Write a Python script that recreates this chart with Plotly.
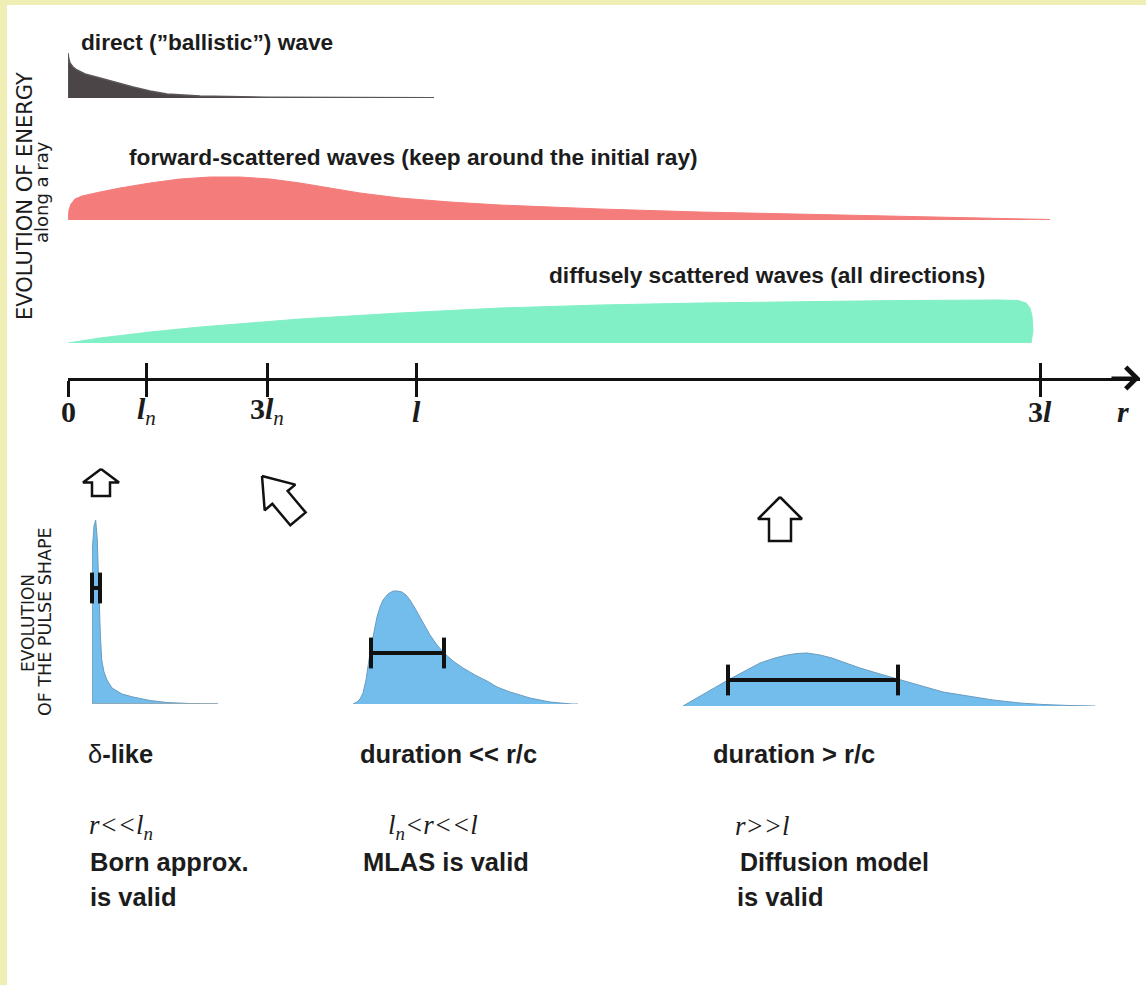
import math
import plotly.graph_objects as go

W, H = 1146, 985

# ---------------- data ----------------
# ray axis (schematic distance r)
ray_ticks = [68, 146, 267, 416, 1040]
ray_tick_labels = ["<b>0</b>",
                   "<b><i>l</i></b><sub><i>n</i></sub>",
                   "<b>3<i>l</i></b><sub><i>n</i></sub>",
                   "<b><i>l</i></b>",
                   "<b>3<i>l</i></b>"]

# energy along a ray (r, relative energy)
direct_r = [68, 68, 68.6, 70, 73, 77, 85, 100, 117, 133, 150, 167, 200, 267, 350, 434]
direct_e = [0, 45, 40, 35, 31, 28, 24, 20, 15, 11, 7, 4, 2, 0.8, 0.4, 0.3]

forward_r = [68, 69, 71, 75, 82, 90, 100, 120, 150, 180, 210, 240, 270, 300, 330, 360,
             400, 450, 500, 600, 700, 800, 900, 1000, 1050]
forward_e = [0, 10, 16, 21, 24, 26, 28, 32, 37, 41, 43, 43, 41, 37, 32, 27,
             22, 18, 15, 11, 8, 6, 4, 2, 0.5]

diffuse_r = [68, 100, 150, 200, 300, 400, 500, 600, 700, 800, 900, 1000, 1018, 1026,
             1030, 1032, 1033, 1031]
diffuse_e = [0, 5, 11, 16, 24, 30, 35, 38, 40, 41.5, 42.5, 43, 42.5, 40,
             35, 27, 12, 0]

# pulse shapes (time since onset, amplitude)
pulse1_t = [0, 0, 2, 3.7, 5.3, 7, 8.3, 9.7, 12, 15, 20, 30, 41, 58, 75, 98, 126]
pulse1_a = [0, 150, 178, 184, 164, 104, 70, 44, 32, 24, 16, 10, 7, 3.5, 1.5, 0.5, 0]
pulse1_width = [0, 8]
pulse1_level = 116

pulse2_t = [0, 4, 7, 10, 13, 17, 21, 24, 27, 30, 35, 40, 44, 49, 53, 57, 63, 70, 77,
            84, 91, 100, 110, 122, 134, 144, 157, 177, 197, 219, 225]
pulse2_a = [0, 2, 5, 11, 24, 51, 72, 87, 97, 104, 110, 113, 113, 112, 109, 104, 94, 81,
            69, 59, 51, 43, 36, 29, 23, 17, 12, 6, 2, 0, 0]
pulse2_width = [18, 91]
pulse2_level = 51

pulse3_t = [0, 17, 32, 45, 62, 77, 92, 104, 114, 124, 137, 149, 160, 177, 197, 214,
            237, 260, 285, 310, 337, 360, 387, 412]
pulse3_a = [0, 10, 18, 26, 35, 43, 48, 51, 52.5, 53, 51, 48, 44, 38, 32, 27,
            20, 14, 10, 6, 3, 1.5, 0.5, 0]
pulse3_width = [45, 215]
pulse3_level = 26

# ---------------- layout helpers ----------------
def xdom(a, b):
    return [a / W, b / W]

def ydom(top, bottom):
    return [1 - bottom / H, 1 - top / H]

SANS = "Liberation Sans, Arial, sans-serif"
DEJAVU = "DejaVu Sans, Liberation Sans, sans-serif"
SERIF = "Liberation Serif, Times New Roman, serif"
INK = "#1c1c1c"

fig = go.Figure()

# energy curves (x6 mirrors the ray axis scale without drawing it)
fig.add_trace(go.Scatter(x=direct_r, y=direct_e, xaxis="x6", yaxis="y2", mode="lines",
                         fill="tozeroy", fillcolor="#4b4547",
                         line=dict(color="#5a5557", width=1.5), hoverinfo="skip"))
fig.add_trace(go.Scatter(x=forward_r, y=forward_e, xaxis="x6", yaxis="y3", mode="lines",
                         fill="tozeroy", fillcolor="#f47d7b",
                         line=dict(color="#f47d7b", width=1), hoverinfo="skip"))
fig.add_trace(go.Scatter(x=diffuse_r, y=diffuse_e, xaxis="x6", yaxis="y4", mode="lines",
                         fill="tozeroy", fillcolor="#82f0c6",
                         line=dict(color="#82f0c6", width=1), hoverinfo="skip"))

# pulse shapes
BLUE = "#72bdec"
pulses = [
    ("x2", "y5", pulse1_t, pulse1_a, pulse1_width, pulse1_level),
    ("x3", "y6", pulse2_t, pulse2_a, pulse2_width, pulse2_level),
    ("x4", "y7", pulse3_t, pulse3_a, pulse3_width, pulse3_level),
]
for xa, ya, t, a, wd, lv in pulses:
    fig.add_trace(go.Scatter(x=t, y=a, xaxis=xa, yaxis=ya, mode="lines", fill="tozeroy",
                             fillcolor=BLUE, line=dict(color="#6a9cc0", width=1),
                             hoverinfo="skip", cliponaxis=False))
    fig.add_trace(go.Scatter(x=wd, y=[lv, lv], xaxis=xa, yaxis=ya, mode="lines+markers",
                             line=dict(color="#111111", width=4),
                             marker=dict(symbol="line-ns", size=22,
                                         line=dict(color="#111111", width=4)),
                             hoverinfo="skip", cliponaxis=False))
# baseline tail of the delta-like pulse
fig.add_trace(go.Scatter(x=[0, 126], y=[0, 0], xaxis="x2", yaxis="y5", mode="lines",
                         line=dict(color="#9aa4aa", width=1.5), hoverinfo="skip"))

# ray axis: invisible trace so the axis is rendered
fig.add_trace(go.Scatter(x=[68, 1140], y=[0, 0], xaxis="x", yaxis="y", mode="markers",
                         marker=dict(size=0.1, opacity=0), hoverinfo="skip"))

# hollow block arrows (overlay pixel space)
def block_arrow(tip_x, tip_y, length, width, angle_deg):
    pts = [(0, 0), (0.5, 0.5), (0.25, 0.5), (0.25, 1.0), (-0.25, 1.0), (-0.25, 0.5),
           (-0.5, 0.5), (0, 0)]
    th = math.radians(angle_deg)
    xs, ys = [], []
    for u, v in pts:
        px, py = u * width, v * length
        rx = px * math.cos(th) - py * math.sin(th)
        ry = px * math.sin(th) + py * math.cos(th)
        xs.append(tip_x + rx)
        ys.append(tip_y + ry)
    return xs, ys

for tip_x, tip_y, ln, wd, ang in [(101, 469, 27, 36, 0), (262, 476, 56, 40, -40),
                                  (780, 497, 44, 44, 0)]:
    ax_, ay_ = block_arrow(tip_x, tip_y, ln, wd, ang)
    fig.add_trace(go.Scatter(x=ax_, y=ay_, xaxis="x5", yaxis="y8", mode="lines",
                             line=dict(color="#111111", width=2.5), hoverinfo="skip"))

# ---------------- annotations ----------------
ann = []
def txt(x, y, s, size, family=SANS, angle=0, xanchor="left", xref="x5"):
    ann.append(dict(x=x, y=y, xref=xref, yref="y8", text=s, showarrow=False,
                    xanchor=xanchor, yanchor="middle", textangle=angle,
                    font=dict(family=family, size=size, color=INK)))

# tick labels of the ray axis
for tv, tl in zip(ray_ticks, ray_tick_labels):
    txt(tv, 411, tl, 30, family=SERIF, xanchor="center", xref="x")
txt(1123, 411, "<b><i>r</i></b>", 30, family=SERIF, xanchor="center")

txt(79, 42, "<b>direct (\u201dballistic\u201d) wave</b>", 22.7)
txt(127, 157, "<b>forward-scattered waves (keep around the initial ray)</b>", 22.7)
txt(547, 275, "<b>diffusely scattered waves (all directions)</b>", 22.7)
txt(25, 196, "EVOLUTION OF ENERGY", 21, family=DEJAVU, angle=-90, xanchor="center")
txt(41, 192, "along a ray", 18, family=DEJAVU, angle=-90, xanchor="center")
txt(28, 623, "EVOLUTION", 17, family=DEJAVU, angle=-90, xanchor="center")
txt(45, 622, "OF THE PULSE SHAPE", 17.5, family=DEJAVU, angle=-90, xanchor="center")

txt(86, 754, "\u03b4<b>-like</b>", 25.5)
txt(358, 754, "<b>duration &lt;&lt; r/c</b>", 25.5)
txt(711, 754, "<b>duration &gt; r/c</b>", 25.5)
txt(87, 827, "<i>r&lt;&lt;l<sub>n</sub></i>", 27, family=SERIF)
txt(88, 862, "<b>Born approx.</b>", 25.5)
txt(88, 897, "<b>is valid</b>", 25.5)
txt(386, 827, "<i>l<sub>n</sub>&lt;r&lt;&lt;l</i>", 27, family=SERIF)
txt(361, 862, "<b>MLAS is valid</b>", 25.5)
txt(733, 826, "<i>r&gt;&gt;l</i>", 27, family=SERIF)
txt(738, 862, "<b>Diffusion model</b>", 25)
txt(735, 897, "<b>is valid</b>", 25.5)

# arrowhead of the ray axis
ann.append(dict(x=1140, y=0, xref="x", yref="y", ax=1110, ay=0, axref="x", ayref="y",
                text="", showarrow=True, arrowhead=4, arrowsize=1.4, arrowwidth=3,
                arrowcolor="#111111"))

hidden = dict(visible=False, fixedrange=True)
fig.update_layout(
    width=W, height=H, margin=dict(l=0, r=0, t=0, b=0),
    paper_bgcolor="white", plot_bgcolor="rgba(0,0,0,0)", showlegend=False,
    hovermode=False,
    xaxis=dict(domain=xdom(68, 1140), range=[68, 1140], showline=True, linewidth=3,
               linecolor="#111111", ticks="outside", ticklen=16, tickwidth=3,
               tickcolor="#111111", showgrid=True, gridcolor="#111111", gridwidth=3,
               tickvals=ray_ticks, showticklabels=False, zeroline=False,
               anchor="y", fixedrange=True),
    yaxis=dict(domain=ydom(363, 378), range=[0, 1], visible=False, anchor="x",
               fixedrange=True),
    xaxis6=dict(domain=xdom(68, 1140), range=[68, 1140], anchor="y2", **hidden),
    yaxis2=dict(domain=ydom(48, 98), range=[0, 50], anchor="x6", **hidden),
    yaxis3=dict(domain=ydom(170, 220), range=[0, 50], anchor="x6", **hidden),
    yaxis4=dict(domain=ydom(293, 343), range=[0, 50], anchor="x6", **hidden),
    xaxis2=dict(domain=xdom(92, 218), range=[0, 126], anchor="y5", **hidden),
    yaxis5=dict(domain=ydom(504, 704), range=[0, 200], anchor="x2", **hidden),
    xaxis3=dict(domain=xdom(353, 578), range=[0, 225], anchor="y6", **hidden),
    yaxis6=dict(domain=ydom(584, 704), range=[0, 120], anchor="x3", **hidden),
    xaxis4=dict(domain=xdom(683, 1095), range=[0, 412], anchor="y7", **hidden),
    yaxis7=dict(domain=ydom(646, 706), range=[0, 60], anchor="x4", **hidden),
    xaxis5=dict(domain=[0, 1], range=[0, W], anchor="y8", **hidden),
    yaxis8=dict(domain=[0, 1], range=[H, 0], anchor="x5", **hidden),
    annotations=ann,
    shapes=[
        dict(type="rect", xref="paper", yref="paper", x0=0, x1=7 / W, y0=0, y1=1,
             fillcolor="#efefb5", line=dict(width=0), layer="below"),
        dict(type="rect", xref="paper", yref="paper", x0=0, x1=1, y0=1 - 5 / H, y1=1,
             fillcolor="#efefb5", line=dict(width=0), layer="below"),
    ],
)

post = (
    "document.documentElement.style.margin='0';"
    "document.documentElement.style.padding='0';"
    "document.body.style.margin='0';document.body.style.padding='0';"
    "document.body.style.overflow='hidden';"
    "var g=document.getElementsByClassName('plotly-graph-div')[0];"
    "g.style.position='absolute';g.style.left='0px';g.style.top='0px';"
)
fig.write_html("out.html", config={"displayModeBar": False}, post_script=post)
